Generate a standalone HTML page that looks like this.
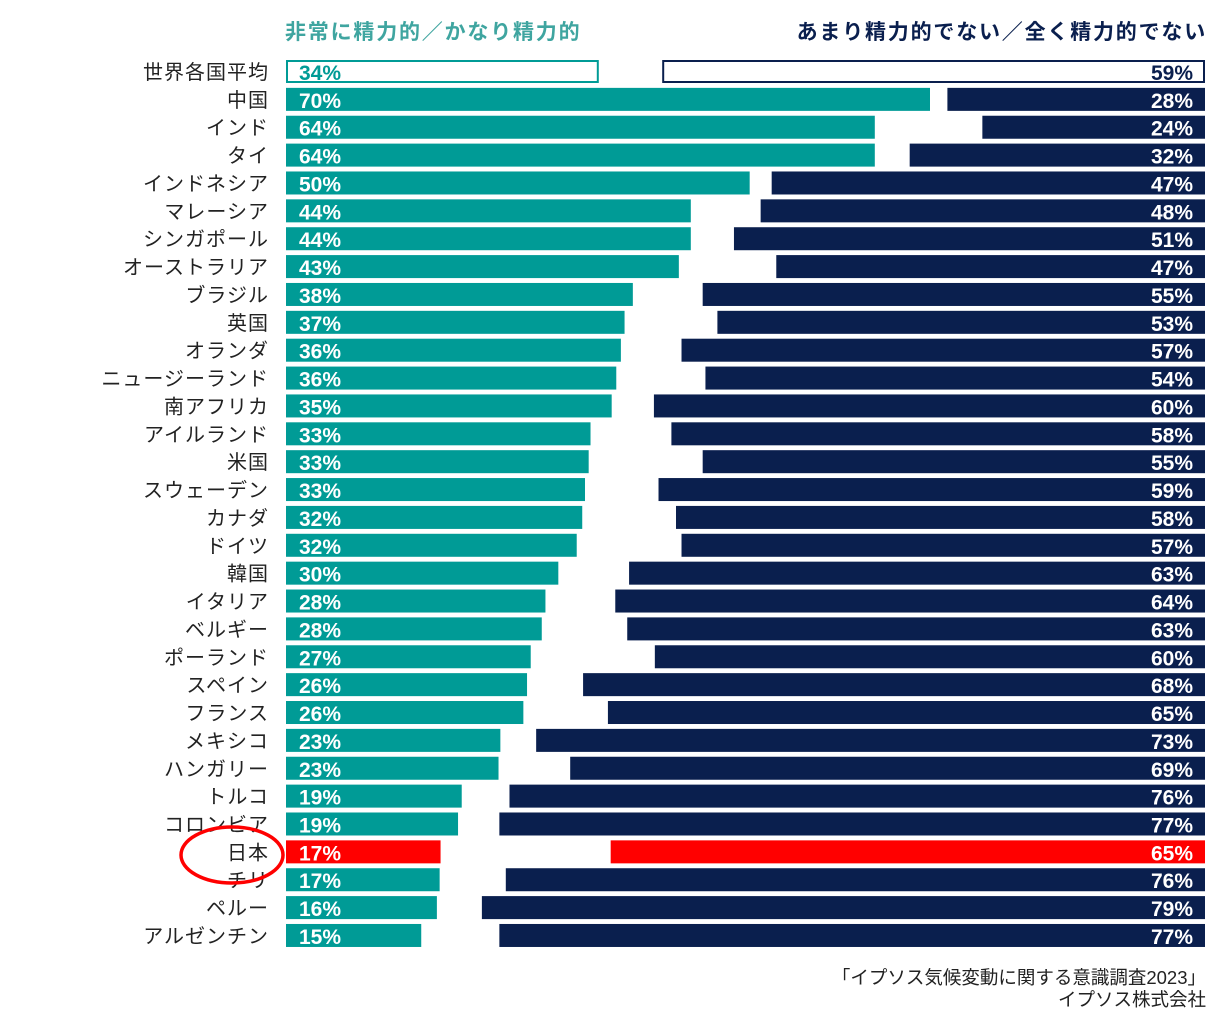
<!DOCTYPE html>
<html><head><meta charset="utf-8"><style>
html,body{margin:0;padding:0;background:#fff;}
svg text{font-family:"Liberation Sans","Noto Sans CJK JP",sans-serif;}
</style></head><body>
<svg id="chart" width="1220" height="1022" viewBox="0 0 1220 1022" xmlns="http://www.w3.org/2000/svg">
<text x="285" y="39" font-size="21" letter-spacing="1.8" font-weight="bold" fill="#3fa5a0">非常に精力的／かなり精力的</text>
<text x="1207" y="39" font-size="21" letter-spacing="1.8" font-weight="bold" fill="#0a1f4e" text-anchor="end">あまり精力的でない／全く精力的でない</text>
<g id="bars"></g>
<ellipse cx="232" cy="855" rx="51" ry="28" fill="none" stroke="#ff0000" stroke-width="3.5"/>
<text x="1206" y="984" font-size="18.5" fill="#222" text-anchor="end">「イプソス気候変動に関する意識調査2023」</text>
<text x="1206" y="1006" font-size="18.5" fill="#222" text-anchor="end">イプソス株式会社</text>
</svg>
<script>
const countries=["世界各国平均","中国","インド","タイ","インドネシア","マレーシア","シンガポール","オーストラリア","ブラジル","英国","オランダ","ニュージーランド","南アフリカ","アイルランド","米国","スウェーデン","カナダ","ドイツ","韓国","イタリア","ベルギー","ポーランド","スペイン","フランス","メキシコ","ハンガリー","トルコ","コロンビア","日本","チリ","ペルー","アルゼンチン"];
const activeValues=[34,70,64,64,50.4,44,44,42.7,37.7,36.8,36.4,35.9,35.4,33.1,32.9,32.5,32.2,31.6,29.6,28.2,27.8,26.6,26.2,25.8,23.3,23.1,19.1,18.7,16.8,16.7,16.4,14.7];
const inactiveValues=[59,28,24.2,32.1,47.1,48.3,51.2,46.6,54.6,53,56.9,54.3,59.9,58,54.6,59.4,57.5,56.9,62.6,64.1,62.8,59.8,67.6,64.9,72.7,69,75.6,76.7,64.6,76,78.6,76.7];
const g=document.getElementById('bars');
const NS="http://www.w3.org/2000/svg";
const x0=286,xEnd=1205,scale=9.2,top0=60,pitch=27.87,bh=23;
const xL=v=>v*scale, y=i=>top0+i*pitch;
function mk(tag,attrs){const e=document.createElementNS(NS,tag);for(const k in attrs)e.setAttribute(k,attrs[k]);g.appendChild(e);return e;}
countries.forEach((c,i)=>{
  const yy=y(i);
  const isAvg=i===0, isJp=c==="日本";
  const lc=isJp?"#ff0000":"#009b96", rc=isJp?"#ff0000":"#0a1f4e";
  const t=mk('text',{x:269,y:yy+19,'font-size':20,'letter-spacing':1,fill:'#222','text-anchor':'end'});
  t.textContent=c;
  
  
  const lw=xL(activeValues[i]);
  const r1=mk('rect',isAvg?{x:x0+1,y:yy+1,width:lw-2,height:bh-2,fill:'#fff',stroke:lc,'stroke-width':2}:{x:x0,y:yy,width:lw,height:bh,fill:lc});
  
  
  const rw=xL(inactiveValues[i]);
  const r2=mk('rect',isAvg?{x:xEnd-rw+1,y:yy+1,width:rw-2,height:bh-2,fill:'#fff',stroke:rc,'stroke-width':2}:{x:xEnd-rw,y:yy,width:rw,height:bh,fill:rc});
  
  
  const t1=mk('text',{x:299,y:yy+20,'font-size':21,'font-weight':'bold',fill:isAvg?lc:'#fff'});
  t1.textContent=Math.round(activeValues[i])+'%';
  
  
  const t2=mk('text',{x:1193,y:yy+20,'font-size':21,'font-weight':'bold',fill:isAvg?rc:'#fff','text-anchor':'end'});
  t2.textContent=Math.round(inactiveValues[i])+'%';
  
  
});
</script>
</body></html>
